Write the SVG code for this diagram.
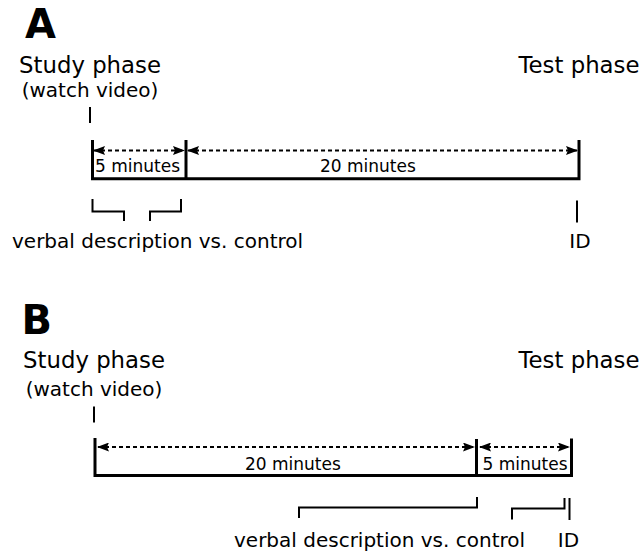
<svg xmlns="http://www.w3.org/2000/svg" width="643" height="552" viewBox="0 0 643 552">
<style>
text{font-family:"DejaVu Sans","Liberation Sans",sans-serif;fill:#000}
.lbl{font-family:"DejaVu Sans",sans-serif;font-weight:bold;font-size:40px}
.ph{font-size:22.8px}
.sub{font-size:20px}
.min{font-size:17px}
.desc{font-size:20px}
.tl{fill:none;stroke:#000;stroke-width:3;stroke-linecap:butt;stroke-linejoin:miter}
.thin{fill:none;stroke:#000;stroke-width:2}
.dash{fill:none;stroke:#000;stroke-width:2;stroke-dasharray:4 3;marker-start:url(#ah);marker-end:url(#ah)}
</style>
<defs>
<marker id="ah" viewBox="0 0 12 9" refX="11" refY="4.5" markerWidth="12" markerHeight="9" markerUnits="userSpaceOnUse" orient="auto-start-reverse">
<path d="M0,0 L12,4.5 L0,9 L2,4.5 Z" fill="#000"/>
</marker>
</defs>
<rect width="643" height="552" fill="#fff"/>

<g id="panelA">
<text class="lbl" x="25" y="38">A</text>
<g id="A-study">
<text class="ph" x="90" y="73" text-anchor="middle">Study phase</text>
<text class="sub" x="90" y="97" text-anchor="middle">(watch video)</text>
<line class="thin" x1="90" y1="107" x2="90" y2="123"/>
</g>
<g id="A-test">
<text class="ph" x="579" y="73" text-anchor="middle">Test phase</text>
</g>
<g id="A-timeline">
<path class="tl" d="M92.5,140 V178.7 H579 V140"/>
<line class="tl" x1="186" y1="140" x2="186" y2="178.7"/>
<text class="min" x="95" y="171.5">5 minutes</text>
<text class="min" x="320" y="171.5">20 minutes</text>
</g>
<g id="A-verbal">
<path class="thin" d="M92.5,199 V211.5 H124 V221"/>
<path class="thin" d="M150,221 V211.5 H181 V199"/>
<text class="desc" x="12" y="248">verbal description vs. control</text>
</g>
<g id="A-id">
<line class="thin" x1="577" y1="200.5" x2="577" y2="222.5"/>
<text class="desc" x="580" y="248" text-anchor="middle">ID</text>
</g>
</g>

<g id="panelB">
<text class="lbl" x="21.5" y="334">B</text>
<g id="B-study">
<text class="ph" x="94" y="368" text-anchor="middle">Study phase</text>
<text class="sub" x="94" y="396" text-anchor="middle">(watch video)</text>
<line class="thin" x1="94" y1="406.5" x2="94" y2="422.5"/>
</g>
<g id="B-test">
<text class="ph" x="579" y="368" text-anchor="middle">Test phase</text>
</g>
<g id="B-timeline">
<path class="tl" d="M95,438 V475.5 H571.5 V438.5"/>
<line class="tl" x1="476.5" y1="439" x2="476.5" y2="475.5"/>
<text class="min" x="245" y="469.5">20 minutes</text>
<text class="min" x="482.5" y="469.5">5 minutes</text>
</g>
<g id="B-verbal">
<path class="thin" d="M299,518 V507.5 H477 V497"/>
<path class="thin" d="M512,519.5 V508.5 H564.5 V498"/>
<text class="desc" x="234" y="546.5">verbal description vs. control</text>
</g>
<g id="B-id">
<line class="thin" x1="569.5" y1="498" x2="569.5" y2="520"/>
<text class="desc" x="568.5" y="546.5" text-anchor="middle">ID</text>
</g>
</g>

<g id="connectors">
<line class="dash" x1="94" y1="150.5" x2="184" y2="150.5"/>
<line class="dash" x1="188" y1="150.5" x2="577" y2="150.5"/>
<line class="dash" x1="98" y1="447" x2="474" y2="447"/>
<line class="dash" x1="480" y1="447" x2="569" y2="447"/>
</g>
</svg>
